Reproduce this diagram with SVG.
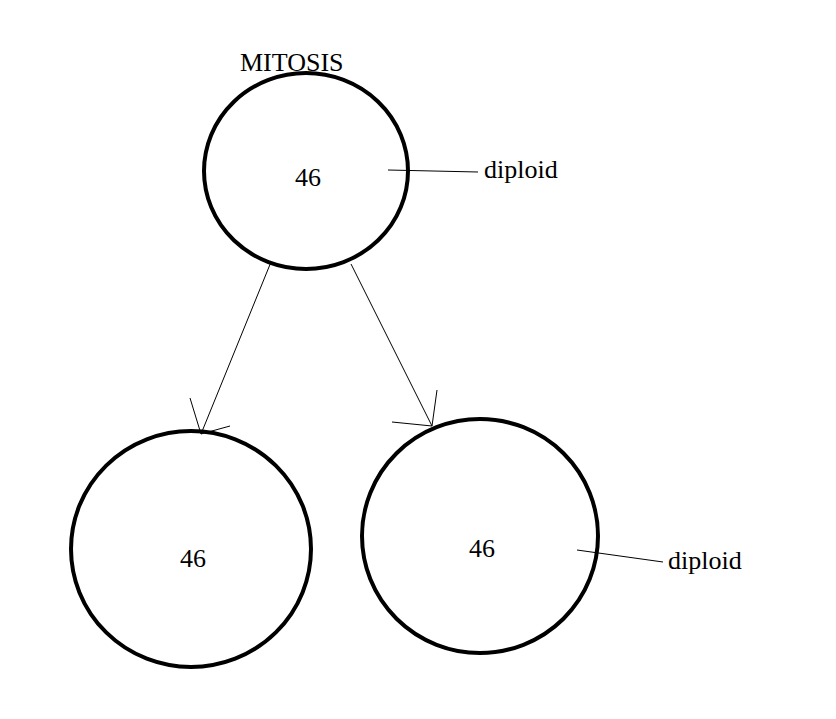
<svg xmlns="http://www.w3.org/2000/svg" width="836" height="719" viewBox="0 0 836 719">
<style>
.c{fill:none;stroke:#000;stroke-width:4}
.l{fill:none;stroke:#000;stroke-width:1}
text{font-family:"Liberation Serif",serif;font-size:26px;fill:#000}
</style>
<rect width="836" height="719" fill="#fff"/>
<text x="240" y="71">MITOSIS</text>
<g id="top"><ellipse class="c" cx="306" cy="171" rx="102" ry="98"/><text x="308" y="186" text-anchor="middle">46</text></g>
<g id="left"><ellipse class="c" cx="191" cy="549" rx="120" ry="118"/><text x="193" y="567" text-anchor="middle">46</text></g>
<g id="right"><ellipse class="c" cx="480" cy="536" rx="118" ry="117"/><text x="482" y="557" text-anchor="middle">46</text></g>
<g id="lab1"><text x="484" y="178">diploid</text></g>
<g id="lab2"><text x="668" y="569">diploid</text></g>
<g id="connectors">
<path class="l" d="M271 262L201 434M190 398L201 434L230 426"/>
<path class="l" d="M351 264L432 426M392 422L432 426L437 390"/>
<path class="l" d="M388 170L478 172"/>
<path class="l" d="M577 550L663 562"/>
</g>
</svg>
